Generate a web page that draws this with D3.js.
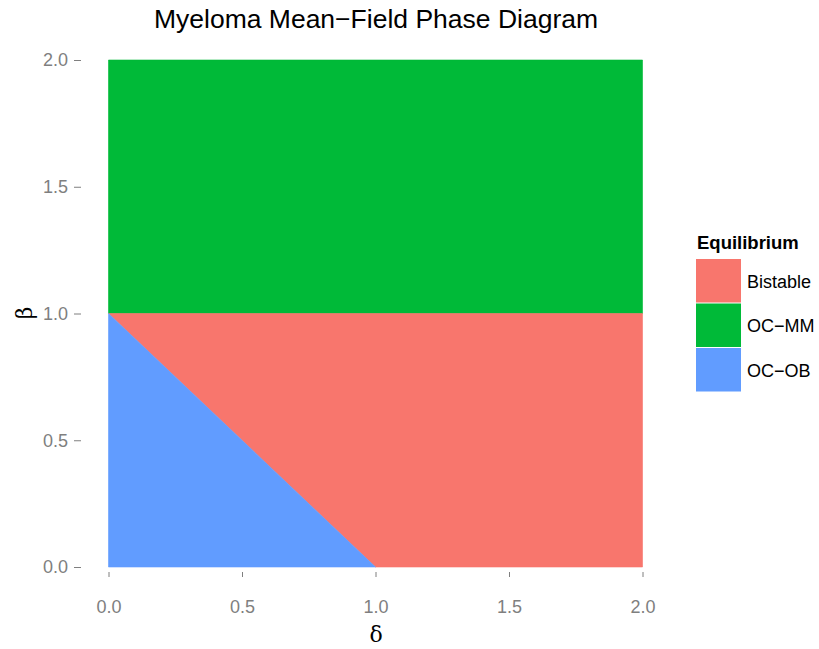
<!DOCTYPE html>
<html>
<head>
<meta charset="utf-8">
<script src="https://cdn.jsdelivr.net/npm/d3@7"></script>
<style>
  body { margin: 0; background: #fff; }
  svg { display: block; font-family: "Liberation Sans", Arial, sans-serif; }
</style>
</head>
<body>
<svg id="chart" width="819" height="649"></svg>
<script>
// Phase regions in (delta, beta) space
const categories = ["Bistable", "OC\u2212MM", "OC\u2212OB"];
const colors = ["#F8766D", "#00BA38", "#619CFF"];
const regionBistable = [[0, 1], [2, 1], [2, 0], [1, 0]];
const regionOCMM = [[0, 2], [2, 2], [2, 1], [0, 1]];
const regionOCOB = [[0, 1], [1, 0], [0, 0]];
const xTicks = [0, 0.5, 1, 1.5, 2];
const yTicks = [0, 0.5, 1, 1.5, 2];

const FONT = "'Liberation Sans', Arial, sans-serif";
const svg = d3.select("#chart");
const x = d3.scaleLinear().domain([0, 2]).range([108.5, 642.5]);
const y = d3.scaleLinear().domain([0, 2]).range([567, 60]);

const regions = [
  { name: categories[1], pts: regionOCMM, color: colors[1] },
  { name: categories[0], pts: regionBistable, color: colors[0] },
  { name: categories[2], pts: regionOCOB, color: colors[2] }
];

const line = d3.line().x(d => x(d[0])).y(d => y(d[1]));
svg.append("g").selectAll("path").data(regions).join("path")
  .attr("d", d => line(d.pts) + "Z")
  .attr("fill", d => d.color)
  .attr("stroke", d => d.color)
  .attr("stroke-width", 0.6);

// Axes
const xAxis = d3.axisBottom(x).tickValues(xTicks).tickFormat(d3.format(".1f")).tickSize(5).tickPadding(23);
const gx = svg.append("g").attr("transform", "translate(0,572)").call(xAxis)
  .attr("font-family", FONT).attr("font-size", 18);
gx.select(".domain").remove();
gx.selectAll("line").attr("stroke", "#7f7f7f");
gx.selectAll("text").attr("fill", "#7f7f7f");

const yAxis = d3.axisLeft(y).tickValues(yTicks).tickFormat(d3.format(".1f")).tickSize(7).tickPadding(6);
const gy = svg.append("g").attr("transform", "translate(81,0)").call(yAxis)
  .attr("font-family", FONT).attr("font-size", 18);
gy.select(".domain").remove();
gy.selectAll("line").attr("stroke", "#7f7f7f");
gy.selectAll("text").attr("fill", "#7f7f7f");

// Title and axis titles
svg.append("text").attr("x", 376).attr("y", 28).attr("text-anchor", "middle")
  .style("font-size", "26.5px").attr("fill", "#000").text("Myeloma Mean\u2212Field Phase Diagram");
svg.append("text").attr("x", 376).attr("y", 642).attr("text-anchor", "middle")
  .style("font-family", "'DejaVu Serif', serif").style("font-size", "22px").text("\u03b4");
svg.append("text").attr("transform", "translate(32,313) rotate(-90)").attr("text-anchor", "middle")
  .style("font-family", "'DejaVu Serif', serif").style("font-size", "22px").text("\u03b2");

// Legend
const lg = svg.append("g").attr("transform", "translate(696,233)");
lg.append("text").attr("x", 1).attr("y", 16).style("font-size", "18.5px").style("font-weight", "bold").text("Equilibrium");
const items = lg.selectAll("g.item").data(categories).join("g").attr("class", "item")
  .attr("transform", (d, i) => `translate(0,${26 + i * 44.5})`);
items.append("rect").attr("width", 45).attr("height", 43.5).attr("fill", (d, i) => colors[i]);
items.append("text").attr("x", 51).attr("y", 28.5).style("font-size", "18px").text(d => d);
</script>
</body>
</html>
